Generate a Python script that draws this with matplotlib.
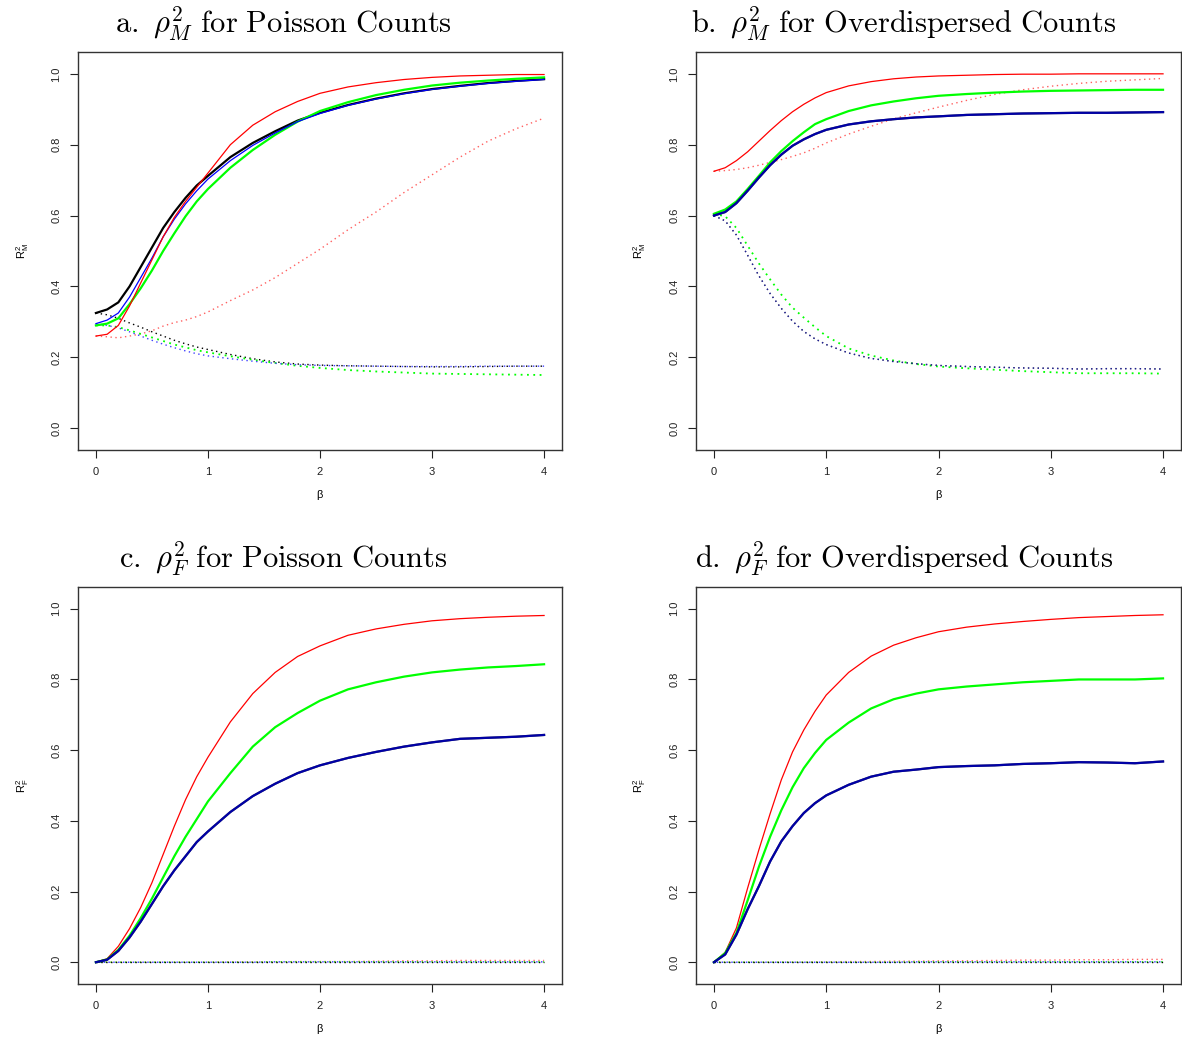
import numpy as np
import matplotlib
matplotlib.use("Agg")
import matplotlib.pyplot as plt

plt.rcParams['mathtext.fontset'] = 'cm'
plt.rcParams['font.family'] = ['Liberation Sans', 'DejaVu Sans']

beta = [0, 0.1, 0.2, 0.3, 0.4, 0.5, 0.6, 0.7, 0.8, 0.9, 1.0, 1.2, 1.4, 1.6, 1.8,
        2.0, 2.25, 2.5, 2.75, 3.0, 3.25, 3.5, 3.75, 4.0]

#Panel a: rho^2_M, Poisson counts
a_black = [0.325, 0.335, 0.355, 0.40, 0.455, 0.51, 0.565, 0.61, 0.65, 0.685, 0.712, 0.765,
           0.805, 0.838, 0.868, 0.89, 0.912, 0.93, 0.945, 0.957, 0.966, 0.974, 0.98, 0.985]
a_blue = [0.295, 0.305, 0.325, 0.37, 0.425, 0.48, 0.54, 0.59, 0.633, 0.67, 0.703, 0.755,
          0.798, 0.833, 0.865, 0.888, 0.911, 0.929, 0.944, 0.956, 0.965, 0.973, 0.979, 0.984]
a_green = [0.29, 0.295, 0.31, 0.35, 0.395, 0.445, 0.50, 0.55, 0.598, 0.64, 0.675, 0.735,
           0.785, 0.828, 0.865, 0.895, 0.92, 0.94, 0.955, 0.967, 0.975, 0.981, 0.986, 0.99]
a_red = [0.26, 0.265, 0.29, 0.345, 0.41, 0.475, 0.54, 0.595, 0.64, 0.68, 0.72, 0.80,
         0.855, 0.893, 0.922, 0.945, 0.963, 0.975, 0.984, 0.99, 0.994, 0.996, 0.998, 0.998]
a_red_dot = [0.26, 0.258, 0.255, 0.26, 0.266, 0.275, 0.288, 0.298, 0.305, 0.315, 0.328, 0.36,
             0.39, 0.425, 0.465, 0.505, 0.56, 0.61, 0.665, 0.715, 0.765, 0.81, 0.845, 0.875]
a_black_dot = [0.325, 0.32, 0.31, 0.297, 0.285, 0.272, 0.26, 0.248, 0.238, 0.229, 0.222, 0.208,
               0.196, 0.187, 0.181, 0.178, 0.176, 0.175, 0.174, 0.173, 0.173, 0.174, 0.175, 0.175]
a_blue_dot = [0.295, 0.29, 0.283, 0.272, 0.26, 0.248, 0.237, 0.227, 0.218, 0.21, 0.204, 0.196,
              0.189, 0.183, 0.179, 0.177, 0.176, 0.175, 0.174, 0.174, 0.174, 0.175, 0.175, 0.175]
a_green_dot = [0.29, 0.29, 0.285, 0.276, 0.266, 0.256, 0.246, 0.236, 0.228, 0.22, 0.214, 0.203,
               0.193, 0.184, 0.176, 0.17, 0.164, 0.16, 0.157, 0.154, 0.153, 0.152, 0.151, 0.15]

#Panel b: rho^2_M, overdispersed counts (black and blue coincide)
b_red = [0.725, 0.735, 0.755, 0.78, 0.81, 0.84, 0.868, 0.893, 0.914, 0.932, 0.947, 0.966,
         0.978, 0.986, 0.991, 0.994, 0.996, 0.998, 0.999, 0.999, 1.0, 1.0, 1.0, 1.0]
b_red_dot = [0.725, 0.727, 0.73, 0.735, 0.742, 0.75, 0.758, 0.767, 0.777, 0.79, 0.805, 0.83,
             0.852, 0.873, 0.89, 0.906, 0.925, 0.942, 0.955, 0.965, 0.973, 0.979, 0.983, 0.987]
b_green = [0.605, 0.617, 0.64, 0.675, 0.712, 0.75, 0.782, 0.81, 0.835, 0.858, 0.872, 0.895,
           0.911, 0.922, 0.931, 0.938, 0.943, 0.947, 0.95, 0.952, 0.953, 0.954, 0.955, 0.955]
b_navy = [0.60, 0.61, 0.635, 0.67, 0.707, 0.742, 0.772, 0.797, 0.815, 0.83, 0.842, 0.857,
          0.866, 0.872, 0.877, 0.88, 0.884, 0.886, 0.888, 0.889, 0.89, 0.89, 0.891, 0.892]
b_navy_dot = [0.60, 0.585, 0.545, 0.488, 0.43, 0.38, 0.338, 0.302, 0.273, 0.252, 0.236, 0.212,
              0.197, 0.188, 0.182, 0.177, 0.174, 0.172, 0.17, 0.169, 0.167, 0.168, 0.168, 0.167]
b_green_dot = [0.605, 0.598, 0.565, 0.515, 0.465, 0.42, 0.377, 0.34, 0.312, 0.285, 0.26, 0.225,
               0.205, 0.191, 0.181, 0.174, 0.169, 0.165, 0.161, 0.158, 0.155, 0.155, 0.155, 0.154]

#Panel c: rho^2_F, Poisson counts
c_red = [0.0, 0.01, 0.045, 0.095, 0.155, 0.225, 0.305, 0.385, 0.46, 0.525, 0.58, 0.68,
         0.76, 0.82, 0.865, 0.895, 0.925, 0.943, 0.956, 0.966, 0.972, 0.976, 0.979, 0.981]
c_green = [0.0, 0.008, 0.035, 0.075, 0.125, 0.18, 0.24, 0.30, 0.355, 0.405, 0.455, 0.535,
           0.61, 0.665, 0.705, 0.74, 0.772, 0.792, 0.808, 0.82, 0.828, 0.834, 0.838, 0.843]
c_navy = [0.0, 0.007, 0.032, 0.07, 0.115, 0.165, 0.215, 0.26, 0.30, 0.34, 0.37, 0.425,
          0.47, 0.505, 0.535, 0.557, 0.578, 0.595, 0.61, 0.622, 0.632, 0.635, 0.638, 0.643]
c_red_dot = [0.0, 0.0, 0.0, 0.0, 0.0, 0.0, 0.0, 0.0, 0.0, 0.0, 0.0, 0.001,
             0.001, 0.001, 0.002, 0.002, 0.002, 0.003, 0.004, 0.004, 0.005, 0.005, 0.005, 0.005]
c_other_dot = [0.0, 0.0, 0.0, 0.0, 0.0, 0.0, 0.0, 0.0, 0.0, 0.0, 0.0, 0.0,
               0.0, 0.001, 0.001, 0.001, 0.001, 0.001, 0.001, 0.001, 0.001, 0.001, 0.001, 0.001]
c_black_dot = [0.0, 0.0, 0.0, 0.0, 0.0, 0.0, 0.0, 0.0, 0.0, 0.0, 0.0, 0.0,
               0.0, 0.0, 0.0, 0.0, 0.0, 0.0, 0.0, 0.0, 0.0, 0.0, 0.0, 0.0]

#Panel d: rho^2_F, overdispersed counts
d_red = [0.0, 0.028, 0.097, 0.21, 0.318, 0.42, 0.516, 0.595, 0.657, 0.71, 0.756, 0.82,
         0.866, 0.897, 0.918, 0.935, 0.948, 0.957, 0.964, 0.97, 0.975, 0.978, 0.981, 0.983]
d_green = [0.0, 0.026, 0.083, 0.175, 0.27, 0.355, 0.43, 0.495, 0.549, 0.592, 0.629, 0.678,
           0.718, 0.744, 0.76, 0.772, 0.78, 0.786, 0.792, 0.796, 0.8, 0.8, 0.8, 0.803]
d_navy = [0.0, 0.022, 0.078, 0.15, 0.215, 0.285, 0.342, 0.385, 0.422, 0.45, 0.472, 0.502,
          0.525, 0.539, 0.545, 0.552, 0.555, 0.557, 0.561, 0.563, 0.566, 0.565, 0.563, 0.568]
d_red_dot = [0.0, 0.0, 0.0, 0.0, 0.0, 0.0, 0.0, 0.0, 0.0, 0.001, 0.001, 0.002,
             0.002, 0.003, 0.003, 0.004, 0.004, 0.005, 0.006, 0.006, 0.007, 0.007, 0.008, 0.008]
d_other_dot = [0.0, 0.0, 0.0, 0.0, 0.0, 0.0, 0.0, 0.0, 0.0, 0.0, 0.0, 0.0,
               0.0, 0.0, 0.001, 0.001, 0.001, 0.001, 0.001, 0.001, 0.001, 0.001, 0.001, 0.001]

titles = [r"$\mathrm{a.}\ \rho^2_M\ \mathrm{for\ Poisson\ Counts}$",
          r"$\mathrm{b.}\ \rho^2_M\ \mathrm{for\ Overdispersed\ Counts}$",
          r"$\mathrm{c.}\ \rho^2_F\ \mathrm{for\ Poisson\ Counts}$",
          r"$\mathrm{d.}\ \rho^2_F\ \mathrm{for\ Overdispersed\ Counts}$"]
ylabels = [r"$\mathregular{R^2_M}$", r"$\mathregular{R^2_M}$",
           r"$\mathregular{R^2_F}$", r"$\mathregular{R^2_F}$"]

W, H = 1182, 1037
fig = plt.figure(figsize=(W / 100, H / 100), dpi=100)

#axes boxes in pixels: left, right, top, bottom
boxes = [(78, 562, 52, 450), (696, 1181, 52, 450),
         (78, 562, 587, 984), (696, 1181, 587, 984)]
title_pos = [(283, 24), (904, 24), (283, 559), (904, 559)]

dot = (0, (1, 2.5))
axs = []
for i, (l, r, t, b) in enumerate(boxes):
    ax = fig.add_axes([l / W, 1 - b / H, (r - l) / W, (b - t) / H])
    ax.set_xlim(-0.16, 4.16)
    ax.set_ylim(-0.0616, 1.0616)
    ax.set_xticks([0, 1, 2, 3, 4])
    ax.set_yticks([0.0, 0.2, 0.4, 0.6, 0.8, 1.0])
    ax.set_yticklabels(["0.0", "0.2", "0.4", "0.6", "0.8", "1.0"], rotation=90, va='center')
    ax.tick_params(direction='out', length=6, width=0.8, labelsize=8, pad=6, colors='#222222')
    for s in ax.spines.values():
        s.set_linewidth(1.0)
        s.set_color('#333333')
    ax.set_xlabel(r"$\mathregular{\beta}$", fontsize=8, labelpad=8)
    ax.set_ylabel(ylabels[i], fontsize=8, labelpad=15)
    fig.text(title_pos[i][0] / W, 1 - title_pos[i][1] / H, titles[i],
             fontsize=22, ha='center', va='center')
    axs.append(ax)

#a
ax = axs[0]
ax.plot(beta, a_red_dot, color='#ff6060', lw=1.0, ls=dot)
ax.plot(beta, a_black_dot, color='black', lw=1.0, ls=dot)
ax.plot(beta, a_green_dot, color='#00ff00', lw=1.3, ls=dot)
ax.plot(beta, a_blue_dot, color='#4040ff', lw=1.0, ls=dot)
ax.plot(beta, a_black, color='black', lw=1.6)
ax.plot(beta, a_green, color='#00ff00', lw=1.6)
ax.plot(beta, a_blue, color='#0000ff', lw=0.9)
ax.plot(beta, a_red, color='#ff0000', lw=0.9)

#b
ax = axs[1]
ax.plot(beta, b_red_dot, color='#ff6060', lw=1.0, ls=dot)
ax.plot(beta, b_green_dot, color='#00ff00', lw=1.3, ls=dot)
ax.plot(beta, b_navy_dot, color='black', lw=1.0, ls=dot)
ax.plot(beta, b_navy_dot, color='#3030ff', lw=1.0, ls=dot, alpha=0.6)
ax.plot(beta, b_red, color='#ff0000', lw=0.9)
ax.plot(beta, b_green, color='#00ff00', lw=1.6)
ax.plot(beta, b_navy, color='black', lw=1.6)
ax.plot(beta, b_navy, color='#0000ff', lw=1.6, alpha=0.65)

#c and d
for ax, red, green, navy, rdot, odot in [(axs[2], c_red, c_green, c_navy, c_red_dot, c_other_dot),
                                         (axs[3], d_red, d_green, d_navy, d_red_dot, d_other_dot)]:
    ax.plot(beta, rdot, color='#ff6060', lw=1.0, ls=dot)
    ax.plot(beta, odot, color='#00ff00', lw=1.0, ls=dot)
    ax.plot(beta, odot, color='#3030ff', lw=1.0, ls=(1.5, (1, 2.5)))
    ax.plot(beta, c_black_dot, color='black', lw=1.0, ls=dot)
    ax.plot(beta, red, color='#ff0000', lw=0.9)
    ax.plot(beta, green, color='#00ff00', lw=1.6)
    ax.plot(beta, navy, color='black', lw=1.6)
    ax.plot(beta, navy, color='#0000ff', lw=1.6, alpha=0.65)

fig.savefig("out.png", dpi=100)
